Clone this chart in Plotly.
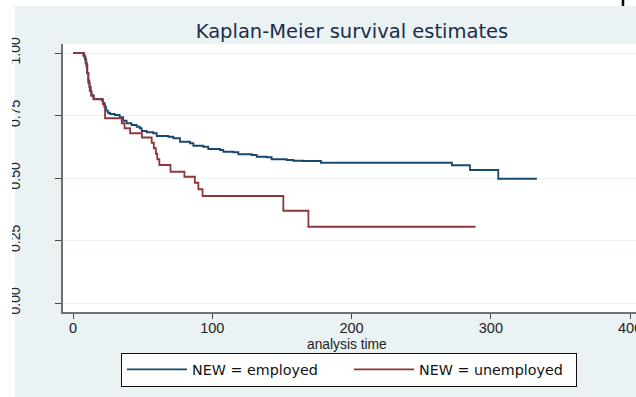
import plotly.graph_objects as go

# ---- data ----
emp_t = [0, 7.4, 8.5, 9.5, 10.3, 11.0, 11.7, 12.7, 13.4, 14.6, 20.6, 21.5, 22.5, 23.7, 25.0,
         26.6, 30.0, 33.5, 36.0, 38.5, 42.0, 45.7, 48.0, 49.3, 52.9, 57.6, 60.1, 68.4, 72.0,
         76.8, 84.0, 86.4, 93.5, 97.1, 105.5, 107.9, 115.1, 118.7, 128.3, 131.9, 139.0, 142.6,
         153.4, 158.2, 165.0, 178.0, 272.0, 285.0, 305.3, 333.0]
emp_s = [1.0, 0.99, 0.975, 0.95, 0.92, 0.89, 0.865, 0.845, 0.83, 0.816, 0.81, 0.80, 0.785, 0.77, 0.761,
         0.756, 0.752, 0.743, 0.729, 0.719, 0.712, 0.705, 0.699, 0.688, 0.683, 0.679, 0.668, 0.665, 0.659,
         0.645, 0.639, 0.629, 0.625, 0.616, 0.612, 0.605, 0.603, 0.595, 0.592, 0.585, 0.583, 0.575,
         0.572, 0.569, 0.568, 0.561, 0.551, 0.532, 0.497, 0.497]

unemp_t = [0, 8.0, 9.0, 10.0, 11.0, 12.0, 13.0, 15.0, 21.5, 23.0, 35.0, 37.0, 41.0, 49.5, 56.5,
           58.0, 59.5, 60.5, 62.0, 70.0, 80.0, 87.5, 90.0, 93.0, 151.0, 169.0, 289.0]
unemp_s = [1.0, 0.985, 0.96, 0.92, 0.88, 0.85, 0.83, 0.815, 0.795, 0.739, 0.719, 0.699, 0.679, 0.662, 0.641,
           0.619, 0.597, 0.575, 0.552, 0.525, 0.505, 0.481, 0.455, 0.428, 0.369, 0.305, 0.305]

series_names = ["NEW = employed", "NEW = unemployed"]
series_colors = ["#1a476f", "#90353b"]
y_ticks = [0, 0.25, 0.5, 0.75, 1.0]
y_ticklabels = ["0.00", "0.25", "0.50", "0.75", "1.00"]
x_ticks = [0, 100, 200, 300, 400]
title_text = "Kaplan-Meier survival estimates"
x_title = "analysis time"

# ---- layout geometry (pixels) ----
W, H = 636, 397
L, R, T, B = 63, 636, 44, 312
pw, ph = R - L, B - T


def px_x(p):
    return (p - L) / pw


def px_y(p):
    return (B - p) / ph


fig = go.Figure()
for t, s, name, col in [(emp_t, emp_s, series_names[0], series_colors[0]),
                        (unemp_t, unemp_s, series_names[1], series_colors[1])]:
    fig.add_trace(go.Scatter(x=t, y=s, mode="lines", name=name,
                             line=dict(color=col, width=1.8, shape="hv")))

fig.update_layout(
    width=W, height=H,
    margin=dict(l=L, r=W - R, t=T, b=H - B, pad=0, autoexpand=False),
    paper_bgcolor="#eaf2f3",
    plot_bgcolor="white",
    font=dict(family="Liberation Sans", size=14, color="#222222"),
    title=dict(text=title_text, x=px_x(352), y=1 - 31 / H, xref="paper", yref="container",
               xanchor="center", yanchor="middle",
               font=dict(family="DejaVu Sans", size=19.5, color="#1c2c4c")),
    xaxis=dict(range=[-7.18, 404.2], tickvals=x_ticks, showgrid=False, zeroline=False,
               showline=True, linecolor="#707070", linewidth=1.5,
               ticks="outside", ticklen=5, tickcolor="#444444", tickwidth=1,
               tickfont=dict(family="Liberation Sans", size=14.5, color="#222222"),
               ticklabelstandoff=-3, ticklabeloverflow="allow", automargin=False),
    yaxis=dict(range=[-0.036, 1.036], tickvals=y_ticks, ticktext=y_ticklabels,
               showgrid=True, gridcolor="#eaf2f3", gridwidth=1.2, zeroline=False,
               showline=True, linecolor="#707070", linewidth=1.5,
               ticks="outside", ticklen=6, tickcolor="#444444", tickwidth=1,
               tickangle=-90,
               tickfont=dict(family="Liberation Sans", size=14, color="#222222"),
               ticklabelstandoff=30, automargin=False),
    legend=dict(orientation="h", x=px_x(121), xanchor="left", y=px_y(369.5), yanchor="middle",
                bgcolor="white", bordercolor="#111111", borderwidth=1,
                font=dict(family="DejaVu Sans", size=14.3, color="#111111"),
                itemwidth=60, entrywidth=152, traceorder="normal"),
    showlegend=True,
    annotations=[dict(text=x_title, xref="paper", yref="paper", x=px_x(346.5), y=px_y(344),
                      xanchor="center", yanchor="middle", showarrow=False,
                      font=dict(family="Liberation Sans", size=13.8, color="#222222"))],
    shapes=[
        dict(type="rect", xref="paper", yref="paper", x0=px_x(-5), x1=px_x(15), y0=px_y(400), y1=px_y(-5),
             fillcolor="white", line=dict(width=0), layer="below"),
        dict(type="rect", xref="paper", yref="paper", x0=px_x(-5), x1=px_x(12), y0=px_y(400), y1=px_y(-5),
             fillcolor="white", line=dict(width=0), layer="above"),
        dict(type="rect", xref="paper", yref="paper", x0=px_x(-5), x1=px_x(640), y0=px_y(6), y1=px_y(-5),
             fillcolor="white", line=dict(width=0), layer="below"),
        dict(type="line", xref="paper", yref="paper", x0=px_x(623), x1=px_x(623), y0=px_y(6), y1=px_y(-2),
             line=dict(color="black", width=2.5), layer="above"),
    ],
)

fig.write_html("out.html")
